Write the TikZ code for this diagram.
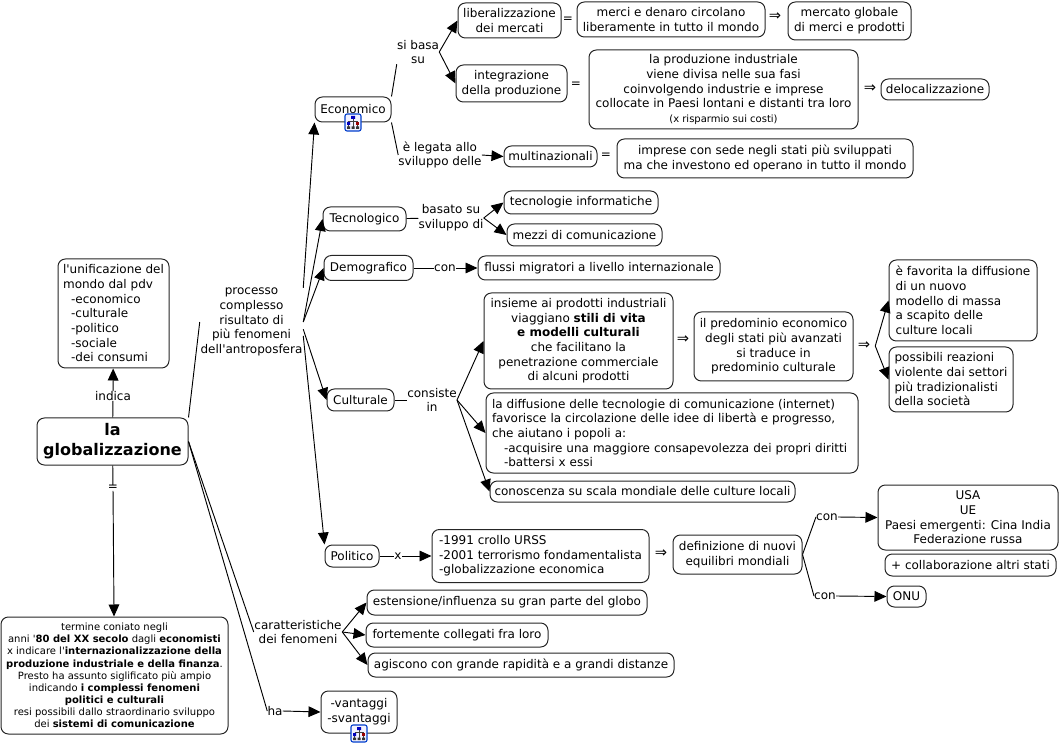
\documentclass[tikz,border=0pt]{standalone}
\usepackage{fontspec}
\setmainfont[Ligatures=TeXOff]{DejaVu Sans}
\usetikzlibrary{arrows.meta}
\def\mapfontsize{9}
\tikzset{
  concept/.style={draw=black!85, line width=.75pt, rounded corners=5.5pt, fill=white, align=center, inner sep=0pt},
  boxdim/.style 2 args={minimum width=#1*.75pt, minimum height=#2*.75pt},
  lbl/.style={align=center, inner sep=0pt},
  impl/.style={lbl, font=\fontsize{11}{11}\selectfont},
  link/.style={line width=.7pt},
  arr/.style={line width=.7pt, -{Triangle[length=9pt,width=8pt]}},
  cmapicon/.pic={
    \draw[blue!70!cyan!80!black, fill=blue!5, line width=.8pt, rounded corners=1.5pt] (-8,-8.5) rectangle (8,8.5);
    \draw[black!75, line width=.45pt] (0,-4) -- (0,5) (-4.5,-1) -- (4.5,-1) (-4.5,-1) -- (-4.5,5) (4.5,-1) -- (4.5,5);
    \fill[blue!75!black] (-2,-6.5) rectangle (2,-3.5) (-6,-.5) rectangle (-3,2.5);
    \fill[red!60!black] (3,-.5) rectangle (6,2.5);
    \fill[black!80] (-6,4) rectangle (-3,6.5) (-1.5,4) rectangle (1.5,6.5) (3,4) rectangle (6,6.5);
  }
}
\begin{document}
\begin{tikzpicture}[x=.75pt, y=-.75pt, font=\fontsize{\mapfontsize}{11}\selectfont]
  \useasboundingbox (0,0) rectangle (1061,745);
  % root and left side
  \node[concept, boxdim={151}{47}, font=\fontsize{12}{15}\selectfont\bfseries] (root) at (112.5,441.5) {la\\globalizzazione};
  \node[concept, boxdim={111}{109}, align=left] (unif) at (113.5,313.5) {l'unificazione del\\mondo dal pdv\\\hspace*{6pt}-economico\\\hspace*{6pt}-culturale\\\hspace*{6pt}-politico\\\hspace*{6pt}-sociale\\\hspace*{6pt}-dei consumi};
  \node[concept, boxdim={227}{117}, font=\fontsize{7.5}{9.1}\selectfont] (termine) at (114.5,675.5) {termine coniato negli\\anni '\textbf{80 del XX secolo} dagli \textbf{economisti}\\x indicare l'\textbf{internazionalizzazione della}\\\textbf{produzione industriale e della finanza}.\\Presto ha assunto siglificato più ampio\\indicando \textbf{i complessi fenomeni}\\\textbf{politici e culturali}\\resi possibili dallo straordinario sviluppo\\dei \textbf{sistemi di comunicazione}};
  \node[lbl, fill=white, minimum width=36*.75pt] (indica) at (113,396) {indica};
  \node[lbl, fill=white] (uguale) at (113,488) {=};
  \node[lbl, boxdim={103}{58}] (processo) at (251.5,322) {processo\\complesso\\risultato di\\più fenomeni\\dell'antroposfera};
  \node[lbl, boxdim={88}{30}] (caratt) at (298,632) {caratteristiche\\dei fenomeni};
  \node[lbl] (ha) at (275,711) {ha};
  \node[concept, boxdim={76}{42}] (vantaggi) at (359,712) {-vantaggi\\-svantaggi};
  % the five fields
  \node[concept, boxdim={76}{25}] (economico) at (353,109.5) {Economico};
  \node[concept, boxdim={83}{24}] (tecnologico) at (364.5,219) {Tecnologico};
  \node[concept, boxdim={89}{25}] (demografico) at (368.5,268) {Demografico};
  \node[concept, boxdim={67}{22}] (culturale) at (360.5,400) {Culturale};
  \node[concept, boxdim={54}{22}] (politico) at (352,556) {Politico};
  % Economico
  \node[lbl] (sibasa) at (418,52) {si basa\\su};
  \node[lbl] (legata) at (440,155) {è legata allo\\sviluppo delle};
  \node[concept, boxdim={103}{35}] (liberal) at (509.5,20.5) {liberalizzazione\\dei mercati};
  \node[concept, boxdim={111}{37}] (integr) at (511.5,83.5) {integrazione\\della produzione};
  \node[lbl] (eqa) at (568,20) {=};
  \node[lbl] (eqb) at (576,85) {=};
  \node[lbl] (eqc) at (606,156) {=};
  \node[concept, boxdim={188}{35}] (merci) at (671,19.5) {merci e denaro circolano\\liberamente in tutto il mondo};
  \node[impl] (impa) at (775,17) {⇒};
  \node[concept, boxdim={123}{38}] (mercato) at (849.5,21) {mercato globale\\di merci e prodotti};
  \node[concept, boxdim={269}{79}] (fasi) at (723.5,89.5) {la produzione industriale\\viene divisa nelle sua fasi\\coinvolgendo industrie e imprese\\collocate in Paesi lontani e distanti tra loro\\{\fontsize{7.5}{9}\selectfont (x risparmio sui costi)}};
  \node[impl] (impb) at (870,89) {⇒};
  \node[concept, boxdim={108}{21}] (deloc) at (935,89.5) {delocalizzazione};
  \node[concept, boxdim={93}{21}] (multi) at (550.5,156.5) {multinazionali};
  \node[concept, boxdim={296}{39}] (imprese) at (765,158.5) {imprese con sede negli stati più sviluppati\\ma che investono ed operano in tutto il mondo};
  % Tecnologico, Demografico
  \node[lbl] (basato) at (451,218) {basato su\\sviluppo di};
  \node[concept, boxdim={154}{23}] (tecinf) at (581,202.5) {tecnologie informatiche};
  \node[concept, boxdim={155}{22}] (mezzi) at (584.5,235) {mezzi di comunicazione};
  \node[lbl] (con) at (445,268) {con};
  \node[concept, boxdim={242}{24}] (flussi) at (599,268) {flussi migratori a livello internazionale};
  % Culturale
  \node[lbl] (consiste) at (432,400) {consiste\\in};
  \node[concept, boxdim={189}{96}] (insieme) at (578.5,341) {insieme ai prodotti industriali\\viaggiano \textbf{stili di vita}\\\textbf{e modelli culturali}\\che facilitano la\\penetrazione commerciale\\di alcuni prodotti};
  \node[impl] (impc) at (683,340) {⇒};
  \node[concept, boxdim={159}{69}] (predominio) at (773.5,346.5) {il predominio economico\\degli stati più avanzati\\si traduce in\\predominio culturale};
  \node[impl, minimum width=22*.75pt] (impd) at (864,346) {⇒};
  \node[concept, boxdim={148}{81}, align=left] (favorita) at (963,300.5) {è favorita la diffusione\\di un nuovo\\modello di massa\\a scapito delle\\culture locali};
  \node[concept, boxdim={124}{65}, align=left] (reazioni) at (951,379.5) {possibili reazioni\\violente dai settori\\più tradizionalisti\\della società};
  \node[concept, boxdim={372}{80}, align=left, text width=360*.75pt] (diffusione) at (672,433) {la diffusione delle tecnologie di comunicazione (internet)\\favorisce la circolazione delle idee di libertà e progresso,\\che aiutano i popoli a:\\\hspace*{9pt}-acquisire una maggiore consapevolezza dei propri diritti\\\hspace*{9pt}-battersi x essi};
  \node[concept, boxdim={305}{21}] (conoscenza) at (642.5,491.5) {conoscenza su scala mondiale delle culture locali};
  % Politico
  \node[lbl] (perx) at (398,556) {x};
  \node[concept, boxdim={217}{53}, align=left] (crollo) at (540.5,556) {-1991 crollo URSS\\-2001 terrorismo fondamentalista\\-globalizzazione economica};
  \node[impl] (impe) at (661,554) {⇒};
  \node[concept, boxdim={129}{39}] (equilibri) at (737.5,554.5) {definizione di nuovi\\equilibri mondiali};
  \node[lbl] (cona) at (827,517) {con};
  \node[lbl] (conb) at (825,596) {con};
  \node[concept, boxdim={180}{65}] (usa) at (968,517.5) {USA\\UE\\Paesi emergenti: Cina India\\Federazione russa};
  \node[concept, boxdim={171}{22}] (collab) at (970.5,565) {+ collaborazione altri stati};
  \node[concept, boxdim={39}{21}] (onu) at (906.5,596.5) {ONU};
  % caratteristiche
  \node[concept, boxdim={280}{25}] (estensione) at (507,602.5) {estensione/influenza su gran parte del globo};
  \node[concept, boxdim={182}{24}] (collegati) at (457,635) {fortemente collegati fra loro};
  \node[concept, boxdim={306}{24}] (agiscono) at (521,665) {agiscono con grande rapidità e a grandi distanze};
  % connectors
  \draw[link] (root) -- (indica);
  \draw[arr] (indica) -- (unif);
  \draw[link] (root) -- (uguale);
  \draw[arr] (uguale) -- (termine);
  \draw[link] (root.north east) -- (processo.west);
  \draw[link] (root.east) -- (caratt.west);
  \draw[link] (root.east) -- (ha.west);
  \draw[arr] (ha.east) -- (vantaggi.west);
  \draw[arr] (processo.north east) -- (economico.south west);
  \draw[arr] (processo.east) -- (tecnologico.west);
  \draw[arr] (processo.east) -- (demografico.west);
  \draw[arr] (processo.-8) -- (culturale.west);
  \draw[arr] (processo.-15) -- (politico.north west);
  \foreach \target in {estensione, collegati, agiscono}
    \draw[arr] (caratt.east) -- (\target.west);
  \draw[link] (economico.north east) -- (sibasa.south west);
  \draw[link] (economico.south east) -- (legata.west);
  \draw[arr] (sibasa.east) -- (liberal.west);
  \draw[arr] (sibasa.east) -- (integr.west);
  \draw[arr] (legata.east) -- (multi.west);
  \draw[link] (tecnologico) -- (basato);
  \draw[arr] (basato.east) -- (tecinf.west);
  \draw[arr] (basato.east) -- (mezzi.west);
  \draw[link] (demografico) -- (con);
  \draw[arr] (con) -- (flussi);
  \draw[link] (culturale) -- (consiste);
  \foreach \target in {insieme, diffusione, conoscenza}
    \draw[arr] (consiste.east) -- (\target.west);
  \draw[arr] (impd.east) -- (favorita.west);
  \draw[arr] (impd.east) -- (reazioni.west);
  \draw[link] (politico) -- (perx);
  \draw[arr] (perx) -- (crollo);
  \draw[link] (equilibri.east) -- (cona.west);
  \draw[link] (equilibri.east) -- (conb.west);
  \draw[arr] (cona.east) -- (usa.west);
  \draw[arr] (conb.east) -- (onu.west);
  % map icons
  \path (economico.south) pic {cmapicon};
  \path (vantaggi.south) pic {cmapicon};
\end{tikzpicture}
\end{document}
